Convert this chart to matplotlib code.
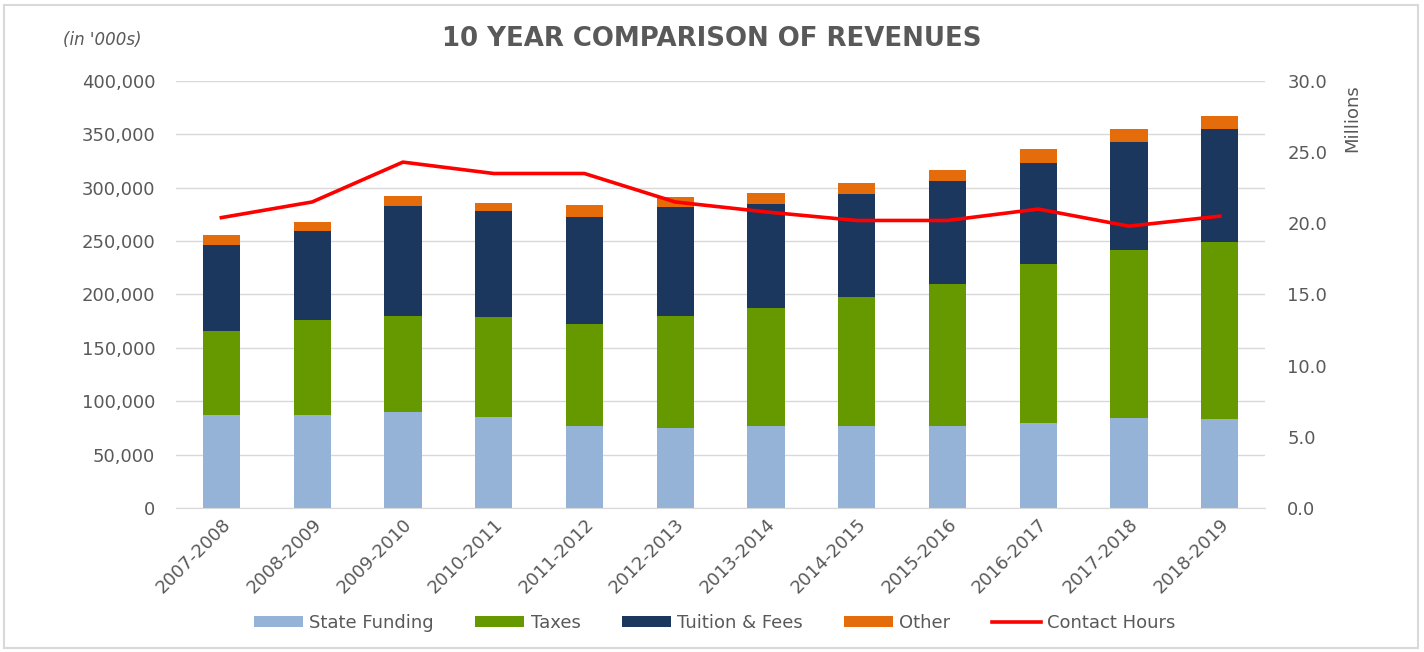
import numpy as np
import matplotlib.pyplot as plt
from matplotlib.patches import Rectangle
from matplotlib.ticker import FuncFormatter

years = ['2007-2008', '2008-2009', '2009-2010', '2010-2011', '2011-2012', '2012-2013',
         '2013-2014', '2014-2015', '2015-2016', '2016-2017', '2017-2018', '2018-2019']

# in '000s
state_funding = [87, 87, 90, 85, 77, 75, 77, 77, 77, 80, 84, 83]
taxes = [79, 89, 90, 94, 95, 105, 110, 121, 133, 149, 158, 166]
tuition_fees = [80, 83, 103, 99, 101, 102, 98, 96, 96, 94, 101, 106]
other = [10, 9, 9, 8, 11, 9, 10, 10, 11, 13, 12, 12]

# millions
contact_hours = [20.4, 21.5, 24.3, 23.5, 23.5, 21.5, 20.8, 20.2, 20.2, 21.0, 19.8, 20.5]

c_state = '#95B3D7'
c_taxes = '#669900'
c_tuition = '#1B375E'
c_other = '#E46C0A'
c_line = '#FF0000'
txt = '#595959'

plt.rcParams['font.family'] = ['DejaVu Sans']

fig = plt.figure(figsize=(14.24, 6.52), dpi=100)
ax = fig.add_axes([0.1236, 0.2209, 0.7648, 0.6549])

x = np.arange(len(years))
sf = np.array(state_funding) * 1000
tx = np.array(taxes) * 1000
tu = np.array(tuition_fees) * 1000
ot = np.array(other) * 1000
w = 0.41

b1 = ax.bar(x, sf, w, color=c_state, label='State Funding', zorder=2)
b2 = ax.bar(x, tx, w, bottom=sf, color=c_taxes, label='Taxes', zorder=2)
b3 = ax.bar(x, tu, w, bottom=sf + tx, color=c_tuition, label='Tuition & Fees', zorder=2)
b4 = ax.bar(x, ot, w, bottom=sf + tx + tu, color=c_other, label='Other', zorder=2)

ax.set_ylim(0, 400000)
ax.set_xlim(-0.5, len(years) - 0.5)
ax.set_yticks(np.arange(0, 400001, 50000))
ax.yaxis.set_major_formatter(FuncFormatter(lambda v, p: f'{int(v):,}'))
ax.grid(axis='y', color='#D9D9D9', linewidth=1, zorder=0)
ax.set_axisbelow(True)
for s in ['top', 'right', 'left']:
    ax.spines[s].set_visible(False)
ax.spines['bottom'].set_color('#D9D9D9')
ax.tick_params(axis='both', length=0, labelsize=13, labelcolor=txt)
ax.tick_params(axis='y', pad=15)
ax.set_xticks(x)
ax.set_xticklabels(years, rotation=45, ha='right', rotation_mode='anchor')
ax.tick_params(axis='x', pad=5)

ax2 = ax.twinx()
l1, = ax2.plot(x, contact_hours, color=c_line, linewidth=2.6, label='Contact Hours', zorder=3)
ax2.set_ylim(0, 30)
ax2.set_yticks(np.arange(0, 30.1, 5))
ax2.yaxis.set_major_formatter(FuncFormatter(lambda v, p: f'{v:.1f}'))
for s in ax2.spines.values():
    s.set_visible(False)
ax2.tick_params(axis='y', length=0, labelsize=13, labelcolor=txt, pad=16)
ax2.set_ylabel('Millions', fontsize=13, color=txt)
ax2.yaxis.set_label_coords(1.072, 0.913)

fig.text(0.5, 0.94, '10 YEAR COMPARISON OF REVENUES', ha='center', va='center',
         fontsize=18.7, fontweight='bold', color=txt)
fig.text(0.072, 0.938, "(in '000s)", ha='center', va='center',
         fontsize=12, style='italic', color=txt)

fig.legend(handles=[b1, b2, b3, b4, l1], loc='center', bbox_to_anchor=(0.502, 0.045),
           ncol=5, frameon=False, fontsize=13, labelcolor=txt,
           handlelength=2.7, handleheight=0.6, columnspacing=2.3, handletextpad=0.35)

fig.patches.append(Rectangle((0.003, 0.006), 0.993, 0.987, transform=fig.transFigure,
                             fill=False, edgecolor='#D9D9D9', linewidth=1.5))

fig.savefig('out.png', dpi=100)
